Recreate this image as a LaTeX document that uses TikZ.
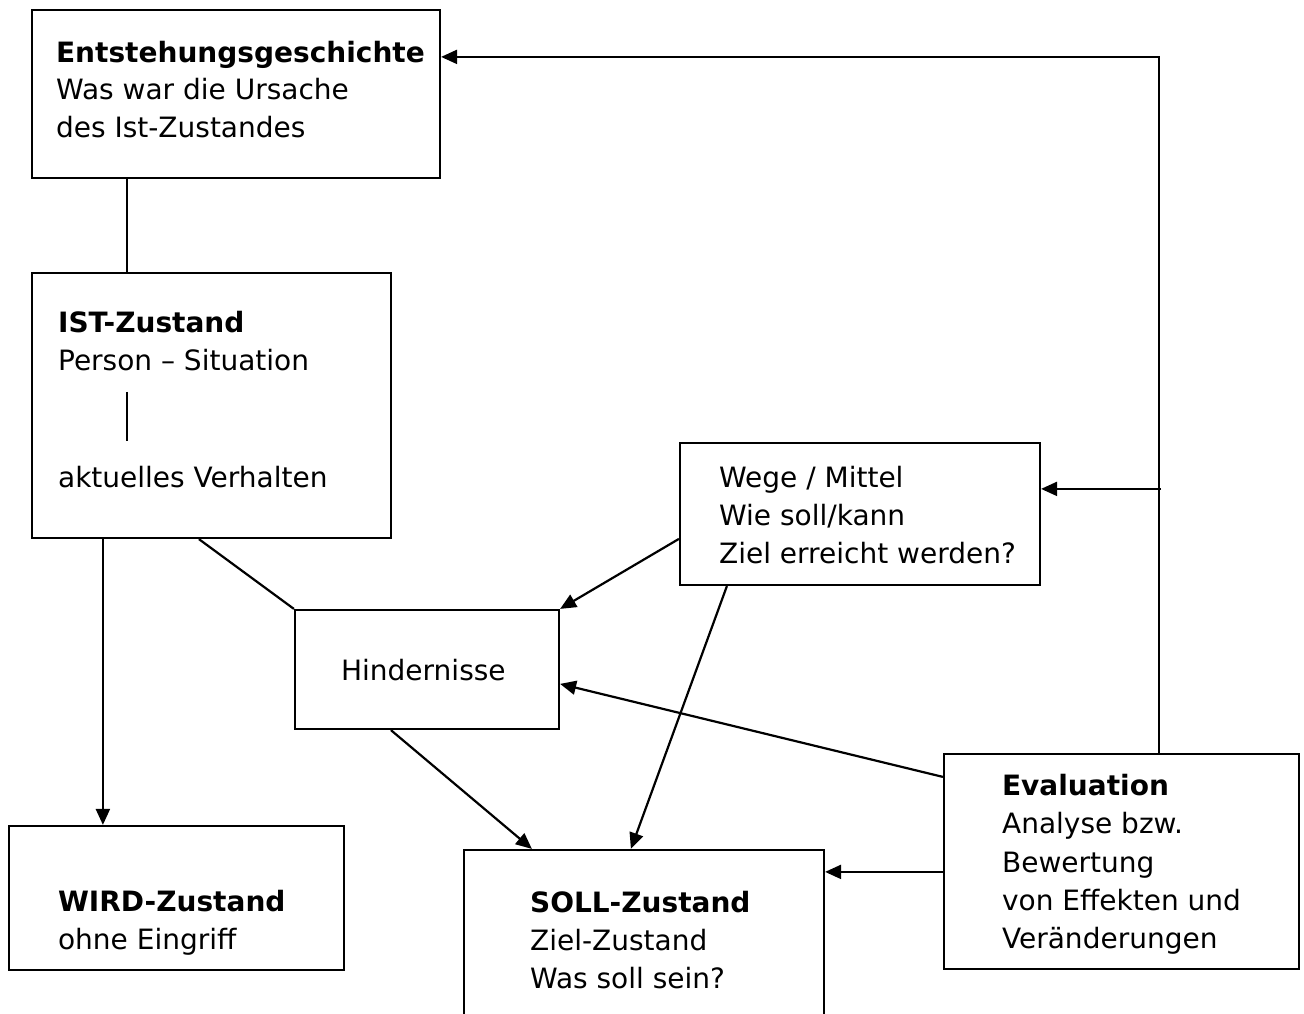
\documentclass[tikz,border=0pt]{standalone}
\usepackage{fontspec}
\setmainfont{DejaVu Sans}
\usetikzlibrary{arrows.meta,calc}
\begin{document}
\begin{tikzpicture}[x=1pt,y=-1pt,
  line width=2.2pt,
  box/.style={draw, line width=2.2pt, inner sep=0pt, fill=none},
  lbl/.style={anchor=base west, inner sep=0pt, font=\fontsize{28}{34}\selectfont},
  arr/.style={-{Triangle[length=16pt,width=14pt]}},
  lnk/.style={line cap=butt}]
\useasboundingbox (0,0) rectangle (1304,1014);
\fill[white] (0,0) rectangle (1304,1014);

% boxes
\node[box, minimum width=408pt, minimum height=168pt] (ent)  at (236,94)    {};
\node[box, minimum width=359pt, minimum height=265pt] (ist)  at (211.5,405.5) {};
\node[box, minimum width=360pt, minimum height=142pt] (wege) at (860,514)   {};
\node[box, minimum width=264pt, minimum height=119pt] (hind) at (427,669.5) {};
\node[box, minimum width=335pt, minimum height=144pt] (wird) at (176.5,898) {};
\node[box, minimum width=355pt, minimum height=215pt] (eval) at (1121.5,861.5) {};
\begin{scope}
  \clip (0,0) rectangle (1304,1014);
  \node[box, minimum width=360pt, minimum height=180pt] (soll) at (644,940) {};
\end{scope}

% texts
\node[lbl] (ent1) at (55,63)  {\bfseries Entstehungsgeschichte};
\node[lbl] (ent2) at (55,100) {Was war die Ursache};
\node[lbl] (ent3) at (55,138) {des Ist-Zustandes};

\node[lbl] (ist1) at (57,332) {\bfseries IST-Zustand};
\node[lbl] (ist2) at (57,370) {Person – Situation};
\node[lbl] (ist3) at (57,487) {aktuelles Verhalten};

\node[lbl] (wege1) at (718,487) {Wege / Mittel};
\node[lbl] (wege2) at (718,525) {Wie soll/kann};
\node[lbl] (wege3) at (718,563) {Ziel erreicht werden?};

\node[lbl] (hind1) at (340,680) {Hindernisse};

\node[lbl] (wird1) at (57,911) {\bfseries WIRD-Zustand};
\node[lbl] (wird2) at (57,949) {ohne Eingriff};

\node[lbl] (soll1) at (529,912) {\bfseries SOLL-Zustand};
\node[lbl] (soll2) at (529,950) {Ziel-Zustand};
\node[lbl] (soll3) at (529,988) {Was soll sein?};

\node[lbl] (eval1) at (1001,795) {\bfseries Evaluation};
\node[lbl] (eval2) at (1001,833) {Analyse bzw.};
\node[lbl] (eval3) at (1001,872) {Bewertung};
\node[lbl] (eval4) at (1001,910) {von Effekten und};
\node[lbl] (eval5) at (1001,948) {Veränderungen};

% helper points
\coordinate (bartop) at ($(ist.north west)+(96,120)$);
\coordinate (barbot) at ($(ist.north west)+(96,169)$);
\coordinate (fork)   at ($(wege.north east)+(120,47)$);

% plain links
\draw[lnk] ($(ent.south west)+(96,0)$) -- ($(ist.north west)+(96,0)$);
\draw[lnk] (bartop) -- (barbot);
\draw[lnk] ($(ist.south west)+(168,0)$) -- (hind.north west);

% arrows
\draw[arr] ($(ist.south west)+(72,0)$) -- ($(wird.north west)+(95,0)$);
\draw[arr] ($(wege.north west)+(0,97)$) -- (hind.north east);
\draw[arr] ($(wege.south west)+(48,0)$) -- ($(soll.north west)+(168,0)$);
\draw[arr] ($(hind.south west)+(97,0)$) -- ($(soll.north west)+(69,0)$);
\draw[arr] ($(eval.north west)+(0,24)$) -- ($(hind.north east)+(0,75)$);
\draw[arr] ($(eval.north west)+(0,119)$) -- ($(soll.north east)+(0,23)$);
\draw[arr] ($(eval.north west)+(216,0)$) |- ($(ent.north east)+(0,48)$);
\draw[arr] (fork) -- ($(wege.north east)+(0,47)$);
\end{tikzpicture}
\end{document}
